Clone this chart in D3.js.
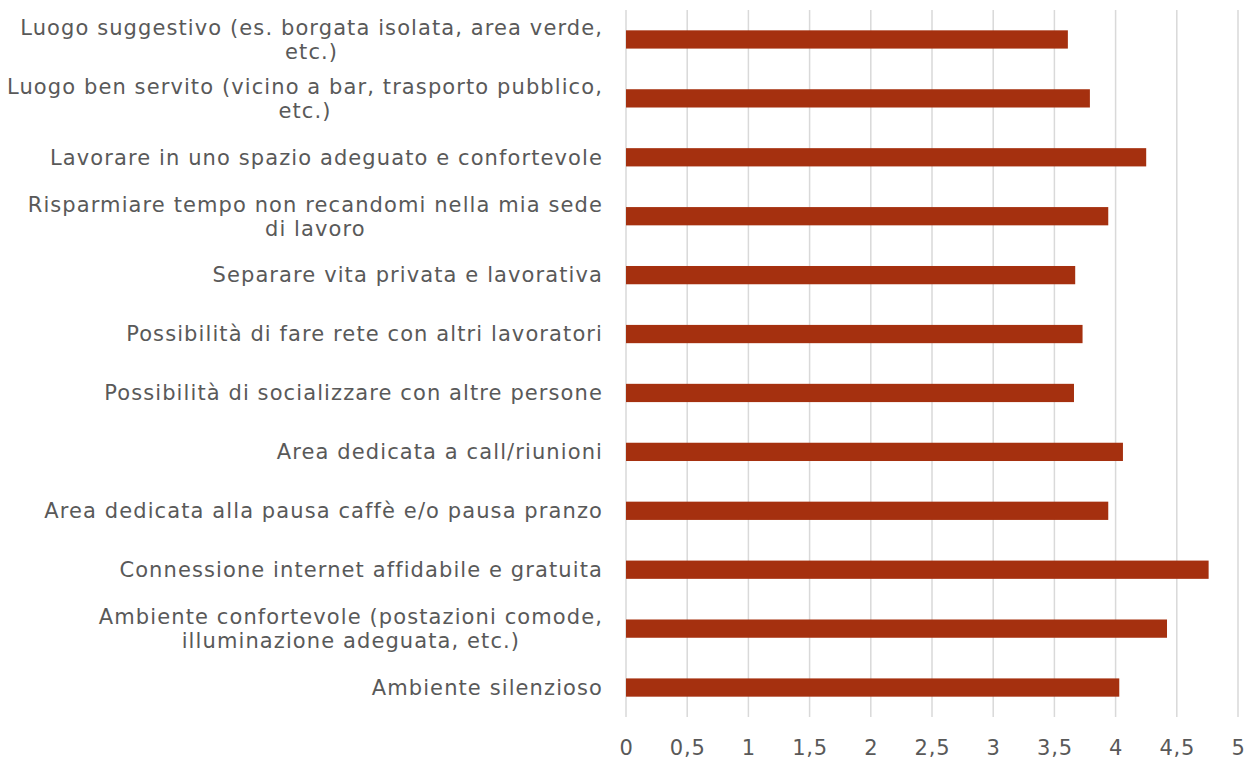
<!DOCTYPE html>
<html>
<head>
<meta charset="utf-8">
<script src="https://cdn.jsdelivr.net/npm/d3@7"></script>
<style>
  html, body { margin: 0; padding: 0; background: #fff; }
  svg text { font-family: "DejaVu Sans", sans-serif; fill: #595959; }
</style>
</head>
<body>
<svg id="chart" width="1255" height="763"></svg>
<script>
// Categories, top to bottom; each entry lists its wrapped label lines
const categories = [
  ["Luogo suggestivo (es. borgata isolata, area verde,", "etc.)"],
  ["Luogo ben servito (vicino a bar, trasporto pubblico,", "etc.)"],
  ["Lavorare in uno spazio adeguato e confortevole"],
  ["Risparmiare tempo non recandomi nella mia sede", "di lavoro"],
  ["Separare vita privata e lavorativa"],
  ["Possibilità di fare rete con altri lavoratori"],
  ["Possibilità di socializzare con altre persone"],
  ["Area dedicata a call/riunioni"],
  ["Area dedicata alla pausa caffè e/o pausa pranzo"],
  ["Connessione internet affidabile e gratuita"],
  ["Ambiente confortevole (postazioni comode,", "illuminazione adeguata, etc.)"],
  ["Ambiente silenzioso"]
];

// Mean score per category
const values = [3.61, 3.79, 4.25, 3.94, 3.67, 3.73, 3.66, 4.06, 3.94, 4.76, 4.42, 4.03];

// Axis tick values and their labels (comma decimal)
const tickValues = [0, 0.5, 1, 1.5, 2, 2.5, 3, 3.5, 4, 4.5, 5];
const tickLabels = ["0", "0,5", "1", "1,5", "2", "2,5", "3", "3,5", "4", "4,5", "5"];

const svg = d3.select("#chart");
const plot = { left: 626, right: 1238, top: 10, bottom: 717 };
const labelRight = 603;

const x = d3.scaleLinear().domain([0, 5]).range([plot.left, plot.right]);
const y = d3.scaleBand()
  .domain(d3.range(categories.length))
  .range([plot.top, plot.bottom])
  .paddingInner(0.69)
  .paddingOuter(0.345);

// Vertical gridlines
svg.append("g")
  .selectAll("line")
  .data(tickValues)
  .join("line")
  .attr("x1", d => x(d)).attr("x2", d => x(d))
  .attr("y1", plot.top).attr("y2", plot.bottom)
  .attr("stroke", "#d9d9d9")
  .attr("stroke-width", 1.5);

// Bars
svg.append("g")
  .selectAll("rect")
  .data(values)
  .join("rect")
  .attr("x", x(0))
  .attr("y", (d, i) => y(i))
  .attr("width", d => x(d) - x(0))
  .attr("height", y.bandwidth())
  .attr("fill", "#a5300f");

// X axis tick labels
const xAxis = d3.axisBottom(x)
  .tickValues(tickValues)
  .tickFormat((d, i) => tickLabels[i])
  .tickSize(0)
  .tickPadding(0);
const gx = svg.append("g")
  .attr("transform", `translate(0, ${plot.bottom + 23})`)
  .call(xAxis);
gx.select(".domain").remove();
gx.selectAll("text")
  .style("font-size", "21px")
  .style("font-family", "DejaVu Sans, sans-serif")
  .style("letter-spacing", "0.8px")
  .attr("fill", "#595959");

// Category labels, right aligned, wrapped lines centred on each band
const fontSize = 21;
const lineH = 24;
const labels = svg.append("g")
  .selectAll("text")
  .data(categories)
  .join("text")
  .attr("text-anchor", "end")
  .style("font-size", fontSize + "px")
  .style("letter-spacing", "1.1px");

labels.each(function (lines, i) {
  const cy = y(i) + y.bandwidth() / 2;
  const t = d3.select(this);
  lines.forEach((ln, k) => {
    t.append("tspan")
      .attr("x", labelRight)
      .attr("y", cy + (k - (lines.length - 1) / 2) * lineH)
      .attr("dy", "0.35em")
      .text(ln);
  });
});

// Continuation lines of wrapped labels are centred under the first line
labels.each(function (lines) {
  if (lines.length < 2) return;
  const spans = d3.select(this).selectAll("tspan").nodes();
  const w0 = spans[0].getComputedTextLength();
  const centre = labelRight - w0 / 2;
  spans.slice(1).forEach(s => {
    d3.select(s).attr("x", centre).attr("text-anchor", "middle");
  });
});
</script>
</body>
</html>
